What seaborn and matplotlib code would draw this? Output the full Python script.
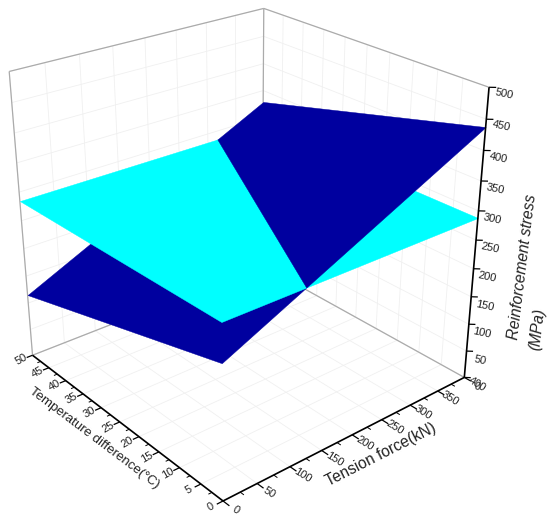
#!/usr/bin/env python3

import numpy as np
import matplotlib
matplotlib.use("Agg")
import matplotlib.pyplot as plt
import seaborn as sns
from mpl_toolkits.mplot3d import proj3d

tension = [0, 400]
temperature = [0, 50]
# rows are temperature, columns tension
stress_dark = [[228.0, 437.5], [115.0, 328.5]]
stress_cyan = [[291.5, 288.0], [284.5, 284.0]]

x_ticks = [0, 50, 100, 150, 200, 250, 300, 350, 400]
y_ticks = [0, 5, 10, 15, 20, 25, 30, 35, 40, 45, 50]
z_ticks = [0, 50, 100, 150, 200, 250, 300, 350, 400, 450, 500]

sns.set_style("white")
plt.rcParams["font.family"] = ["Liberation Sans", "DejaVu Sans"]

DARK = "#00009F"
CYAN = "#00FFFF"
GRID = "#F0F0F0"
EDGE = "#ABABAB"
INK = "#222222"

fig = plt.figure(figsize=(5.5, 5.2), dpi=100)
ax = fig.add_axes([-36.6 / 550, 22.7 / 520, 1, 1], projection="3d", computed_zorder=False)
ax.set_xlim(0, 400)
ax.set_ylim(0, 50)
ax.set_zlim(0, 500)
ax.view_init(elev=26.31, azim=-129.72)
ax.set_proj_type("persp", focal_length=0.4775)
ax.set_box_aspect((4, 4.03, 3.97), zoom=1.04)
ax.set_axis_off()


def line(xs, ys, zs, color, lw, zorder=1):
    ax.plot(xs, ys, zs, color=color, lw=lw, zorder=zorder, solid_capstyle="butt", clip_on=False)


def label(x, y, z, s, rotation):
    px, py, _ = proj3d.proj_transform(x, y, z, ax.get_proj())
    ax.text2D(px, py, s, transform=ax.transData, fontsize=8, rotation=rotation, ha="center", va="center",
              rotation_mode="anchor", color=INK, zorder=9, clip_on=False)


# grid on the floor and both back walls
for x in x_ticks:
    line([x, x], [0, 50], [0, 0], GRID, 0.6)
    line([x, x], [50, 50], [0, 500], GRID, 0.6)
for y in y_ticks:
    line([0, 400], [y, y], [0, 0], GRID, 0.6)
    line([400, 400], [y, y], [0, 500], GRID, 0.6)
for z in z_ticks:
    line([0, 400], [50, 50], [z, z], GRID, 0.6)
    line([400, 400], [0, 50], [z, z], GRID, 0.6)

# box edges behind the data
line([0, 400], [50, 50], [0, 0], EDGE, 0.9, 2)
line([400, 400], [0, 50], [0, 0], EDGE, 0.9, 2)
line([0, 400], [50, 50], [500, 500], EDGE, 0.9, 2)
line([400, 400], [0, 50], [500, 500], EDGE, 0.9, 2)
line([0, 0], [50, 50], [0, 500], EDGE, 0.9, 2)
line([400, 400], [50, 50], [0, 500], EDGE, 0.9, 2)

# the two surfaces cut each other, so split them along the crossing and
# paint the pieces from the bottom up
dark = np.array(stress_dark)
cyan = np.array(stress_cyan)
gap = cyan - dark
cross = [tension[0] + (tension[1] - tension[0]) * g[0] / (g[0] - g[1]) for g in gap]


def piece(values, side):
    rows = []
    for i, c in enumerate(cross):
        v_c = values[i][0] + (values[i][1] - values[i][0]) * (c - tension[0]) / (tension[1] - tension[0])
        if side == "low":
            rows.append(([tension[0], c], [values[i][0], v_c]))
        else:
            rows.append(([c, tension[1]], [v_c, values[i][1]]))
    xx = np.array([r[0] for r in rows])
    zz = np.array([r[1] for r in rows])
    yy = np.array([[temperature[0]] * 2, [temperature[1]] * 2])
    return xx, yy, zz


order = [(dark, "low", DARK), (cyan, "high", CYAN), (cyan, "low", CYAN), (dark, "high", DARK)]
for i, (values, side, color) in enumerate(order):
    xx, yy, zz = piece(values, side)
    ax.plot_surface(xx, yy, zz, color=color, shade=False, linewidth=0.3, edgecolor=color,
                    antialiased=True, zorder=3 + i, clip_on=False)

# front axes
line([0, 400], [0, 0], [0, 0], "black", 1.2, 8)
line([0, 0], [0, 50], [0, 0], "black", 1.2, 8)
line([400, 400], [0, 0], [0, 500], "black", 1.2, 8)

for x in x_ticks:
    line([x, x], [0, -1.4], [0, 0], "black", 0.9, 8)
    label(x, -2.7, 0, str(x), -32)
for a, b in zip(x_ticks[:-1], x_ticks[1:]):
    line([(a + b) / 2] * 2, [0, -0.8], [0, 0], "black", 0.7, 8)

for y in y_ticks:
    line([0, -9], [y, y], [0, 0], "black", 0.9, 8)
    label(-17, y, 0, str(y), 30)
for a, b in zip(y_ticks[:-1], y_ticks[1:]):
    line([0, -5], [(a + b) / 2] * 2, [0, 0], "black", 0.7, 8)

for z in z_ticks:
    line([400, 406], [0, -0.7], [z, z], "black", 0.9, 8)
    label(396, -3.2, z, str(z), -12)

fig.text(94 / 550, 1 - 438 / 520, "Temperature difference(°C)", fontsize=9.5, rotation=-37,
         ha="center", va="center", rotation_mode="anchor", color=INK)
fig.text(381 / 550, 1 - 455 / 520, "Tension force(kN)", fontsize=11.2, rotation=27,
         ha="center", va="center", rotation_mode="anchor", color=INK)
fig.text(522 / 550, 1 - 267 / 520, "Reinforcement stress", fontsize=11.2, rotation=83, style="italic",
         ha="center", va="center", rotation_mode="anchor", color=INK)
fig.text(537 / 550, 1 - 329 / 520, "(MPa)", fontsize=11.2, rotation=83, style="italic",
         ha="center", va="center", rotation_mode="anchor", color=INK)

fig.savefig("out.png", dpi=100)
